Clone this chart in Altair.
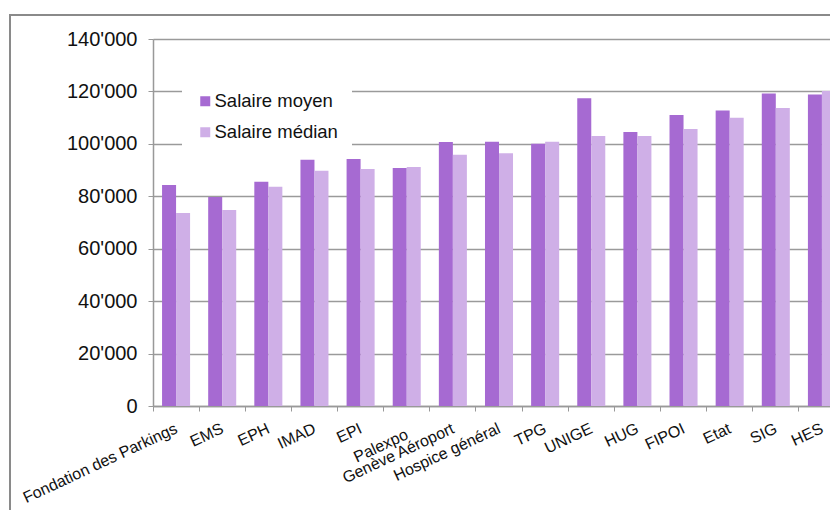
import altair as alt
import pandas as pd

categories = ["Fondation des Parkings", "EMS", "EPH", "IMAD", "EPI", "Palexpo",
              "Genève Aéroport", "Hospice général", "TPG", "UNIGE", "HUG",
              "FIPOI", "Etat", "SIG", "HES"]
salaire_moyen = [84300, 79700, 85500, 93900, 94200, 90800, 100700, 100800,
                 100000, 117400, 104500, 111000, 112700, 119200, 118800]
salaire_median = [73600, 74800, 83600, 89700, 90400, 91200, 95800, 96400,
                  100800, 103000, 103000, 105700, 110000, 113700, 120200]
series = ["Salaire moyen", "Salaire médian"]
colors = ["#A66AD2", "#CFAFE7"]
y_ticks = [0, 20000, 40000, 60000, 80000, 100000, 120000, 140000]

rows = []
for c, m, d in zip(categories, salaire_moyen, salaire_median):
    rows.append({"cat": c, "serie": series[0], "val": m})
    rows.append({"cat": c, "serie": series[1], "val": d})
df = pd.DataFrame(rows)

FONT = "Liberation Sans"

bars = alt.Chart(df).mark_bar().encode(
    x=alt.X("cat:N", sort=categories, title=None,
            scale=alt.Scale(range=[0, 692], paddingInner=0, paddingOuter=0),
            axis=alt.Axis(bandPosition=0, labelAngle=-25, labelOffset=-3,
                          labelAlign="right", labelBaseline="top",
                          labelPadding={"condition": {"test": "datum.value == 'Palexpo'", "value": 15}, "value": 9},
                          labelFontSize=16, labelFont=FONT, labelColor="#111",
                          tickSize=5, tickColor="#999", domainColor="#999",
                          domainWidth=1.5, grid=False, labelOverlap=False)),
    xOffset=alt.XOffset("serie:N", sort=series,
                        scale=alt.Scale(domain=series, paddingOuter=0.646, paddingInner=0)),
    y=alt.Y("val:Q", title=None,
            scale=alt.Scale(domain=[0, 140000], nice=False),
            axis=alt.Axis(values=y_ticks,
                          labelExpr="replace(format(datum.value, ','), ',', \"'\")",
                          labelFontSize=20, labelFont=FONT, labelColor="#111",
                          labelPadding=11, tickSize=5, tickColor="#999",
                          domainColor="#999", domainWidth=1.5,
                          gridColor="#9a9a9a", gridWidth=1.4)),
    color=alt.Color("serie:N", sort=series,
                    scale=alt.Scale(domain=series, range=colors),
                    legend=alt.Legend(title=None, orient="none", legendX=29, legendY=39,
                                      fillColor="white", padding=14,
                                      symbolType="square", symbolSize=100,
                                      symbolStrokeWidth=0, labelFontSize=18.5,
                                      labelFont=FONT, labelColor="#111",
                                      rowPadding=12, labelOffset=0)),
)

frame = alt.Chart(pd.DataFrame({"f": [0]})).mark_rect(
    filled=False, stroke="#8a8a8a", strokeWidth=2
).encode(
    x=alt.value(-143), x2=alt.value(900),
    y=alt.value(-24), y2=alt.value(700),
)

chart = alt.layer(frame, bars).properties(
    width=677, height=367,
    autosize=alt.AutoSizeParams(type="none"),
    padding={"left": 145, "top": 31, "right": 0, "bottom": 104},
).configure_view(strokeWidth=0).configure(font=FONT)

chart.save("out.html", embed_options={"renderer": "svg", "actions": False})
